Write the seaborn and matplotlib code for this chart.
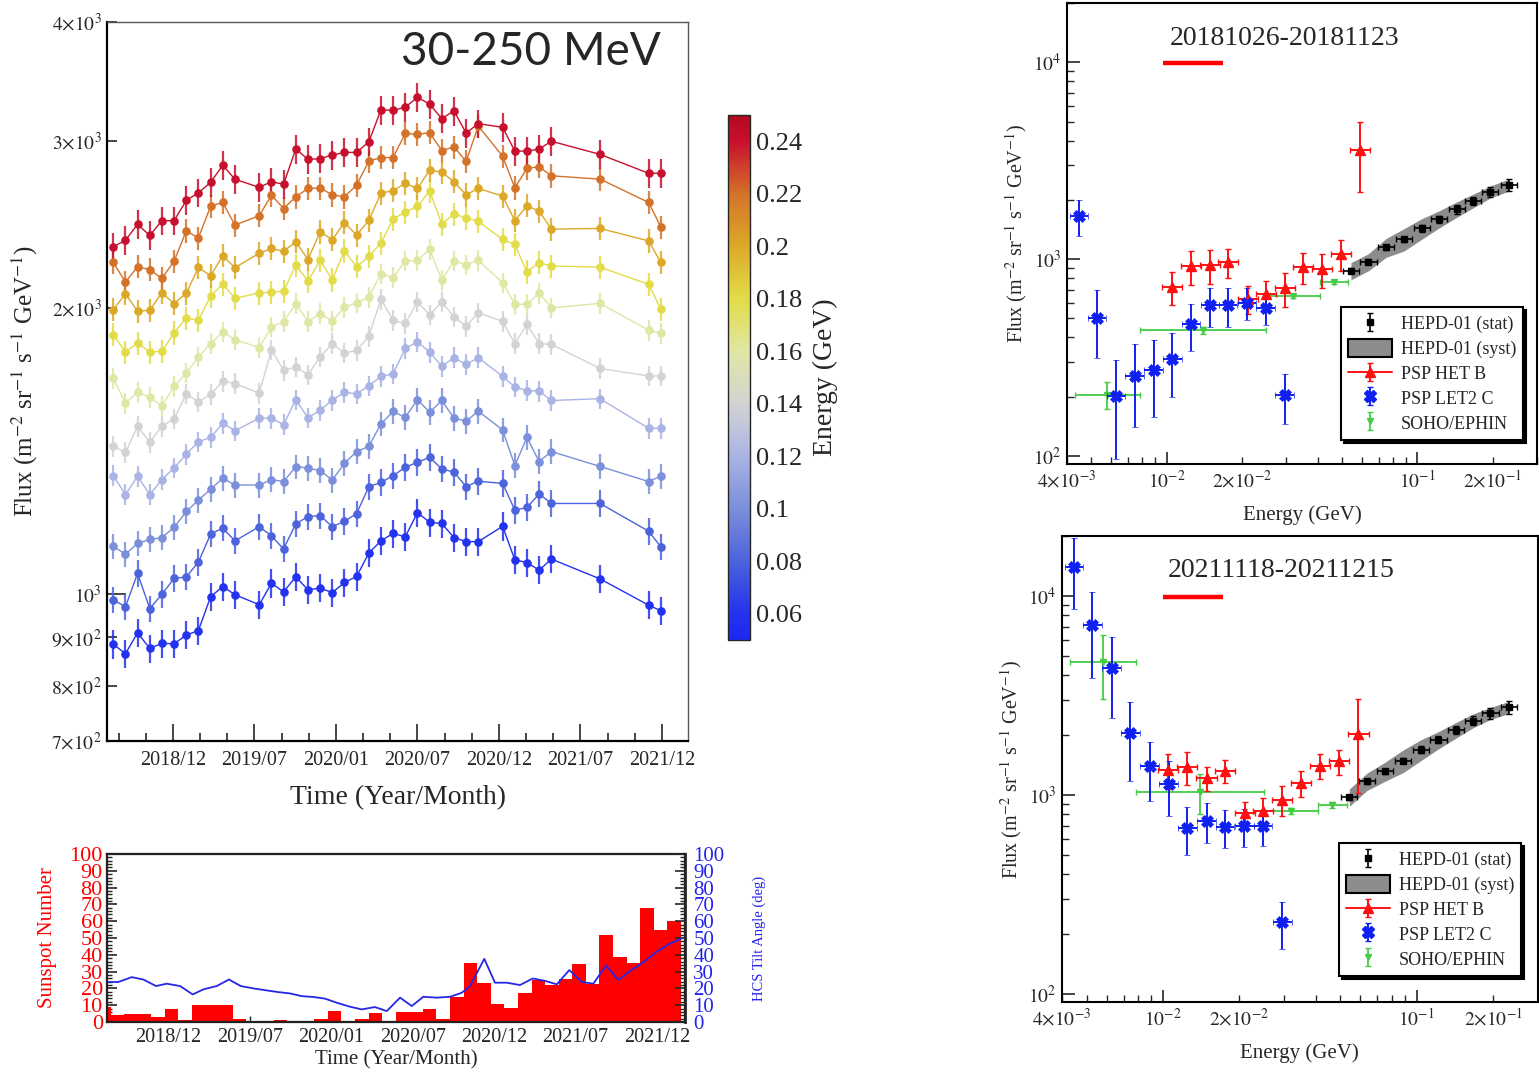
import numpy as np
import pandas as pd
import matplotlib
matplotlib.use("Agg")
import matplotlib.pyplot as plt
import seaborn as sns
from matplotlib.colors import LinearSegmentedColormap, Normalize
from matplotlib.ticker import FixedLocator, FuncFormatter, NullFormatter
from matplotlib.patches import Patch

# ------------------------------------------------------------------ data
# time axis: months (arbitrary origin), one point per 27-day rotation
time_months = [7.60, 8.50, 9.39, 10.29, 11.18, 12.08, 12.98, 13.87, 14.77, 15.66, 16.56,
               18.35, 19.25, 20.14, 21.04, 21.94, 22.83, 23.73, 24.62, 25.52, 26.42,
               27.31, 28.21, 29.10, 30.00, 30.90, 31.79, 32.69, 33.58, 34.48,
               36.27, 37.17, 38.06, 38.96, 39.86,
               43.44, 47.02, 47.92]
time_tick_pos = [12, 18, 24, 30, 36, 42, 48]
time_tick_pos_lower = [11.65, 17.65, 23.65, 29.65, 35.65, 41.65, 47.65]
time_tick_labels = ["2018/12", "2019/07", "2020/01", "2020/07", "2020/12", "2021/07", "2021/12"]

energies = [0.06, 0.08, 0.10, 0.12, 0.14, 0.16, 0.18, 0.20, 0.22, 0.24]
flux_006 = [885, 865, 910, 876, 887, 886, 905, 915, 993, 1018, 998, 974, 1026, 1005, 1042, 1010, 1014, 1003, 1028, 1043, 1104, 1137, 1158, 1148, 1218, 1189, 1186, 1146, 1135, 1135, 1178, 1086, 1079, 1059, 1088, 1037, 973, 960]
flux_008 = [986, 969, 1051, 965, 999, 1038, 1042, 1080, 1156, 1173, 1137, 1177, 1151, 1115, 1185, 1206, 1209, 1177, 1192, 1215, 1297, 1310, 1332, 1359, 1376, 1392, 1354, 1343, 1297, 1314, 1307, 1225, 1233, 1274, 1245, 1245, 1164, 1121]
flux_010 = [1122, 1101, 1130, 1141, 1146, 1175, 1221, 1255, 1289, 1323, 1302, 1302, 1319, 1313, 1361, 1357, 1348, 1318, 1372, 1412, 1430, 1510, 1556, 1534, 1601, 1553, 1598, 1531, 1520, 1557, 1488, 1365, 1461, 1378, 1412, 1362, 1313, 1330]
flux_012 = [1332, 1272, 1330, 1272, 1319, 1357, 1403, 1446, 1461, 1512, 1485, 1531, 1531, 1507, 1601, 1532, 1561, 1599, 1630, 1624, 1656, 1694, 1705, 1813, 1842, 1797, 1736, 1773, 1744, 1773, 1694, 1651, 1637, 1635, 1598, 1605, 1494, 1494]
flux_014 = [1430, 1409, 1501, 1444, 1502, 1528, 1624, 1592, 1622, 1675, 1665, 1627, 1807, 1719, 1733, 1701, 1776, 1834, 1793, 1804, 1868, 2043, 1941, 1926, 2029, 1967, 2029, 1958, 1913, 1977, 1936, 1834, 1922, 1834, 1831, 1727, 1696, 1696]
flux_016 = [1687, 1588, 1630, 1611, 1577, 1654, 1708, 1776, 1834, 1887, 1852, 1817, 1910, 1935, 2021, 1935, 1973, 1937, 2004, 2025, 2052, 2173, 2153, 2241, 2244, 2306, 2139, 2242, 2221, 2245, 2126, 2018, 2018, 2073, 2001, 2022, 1895, 1880]
flux_018 = [1875, 1797, 1837, 1797, 1800, 1883, 1952, 1941, 2058, 2120, 2047, 2074, 2078, 2082, 2218, 2135, 2245, 2141, 2297, 2210, 2267, 2340, 2481, 2524, 2558, 2656, 2451, 2512, 2487, 2468, 2361, 2333, 2183, 2232, 2214, 2208, 2118, 1994]
flux_020 = [1992, 2070, 1984, 1989, 2075, 2021, 2073, 2206, 2162, 2270, 2205, 2284, 2310, 2294, 2348, 2249, 2405, 2360, 2460, 2386, 2473, 2642, 2658, 2705, 2672, 2794, 2779, 2716, 2631, 2672, 2623, 2471, 2562, 2529, 2421, 2425, 2353, 2233]
flux_022 = [2234, 2129, 2210, 2195, 2148, 2240, 2411, 2370, 2559, 2583, 2445, 2501, 2629, 2545, 2618, 2672, 2674, 2631, 2618, 2694, 2855, 2879, 2880, 3053, 3047, 3058, 2929, 2955, 2853, 3108, 2889, 2676, 2805, 2816, 2755, 2733, 2583, 2434]
flux_024 = [2319, 2357, 2449, 2384, 2471, 2471, 2596, 2644, 2712, 2826, 2732, 2679, 2716, 2699, 2940, 2867, 2872, 2897, 2916, 2916, 2992, 3233, 3229, 3253, 3333, 3277, 3165, 3225, 3056, 3126, 3099, 2925, 2925, 2940, 2996, 2902, 2772, 2772]
flux_series = [flux_006, flux_008, flux_010, flux_012, flux_014,
               flux_016, flux_018, flux_020, flux_022, flux_024]
flux_rel_err = [0.034, 0.032, 0.030, 0.025, 0.025, 0.025, 0.028, 0.028, 0.028, 0.035]

cbar_ticks = [0.06, 0.08, 0.10, 0.12, 0.14, 0.16, 0.18, 0.20, 0.22, 0.24]
cbar_ticklabels = ["0.06", "0.08", "0.1", "0.12", "0.14", "0.16", "0.18", "0.2", "0.22", "0.24"]

# sunspot number, monthly, Aug 2018 .. Feb 2022
ssn_first_edge = 6.40
ssn_values = [9.0, 4.0, 5.0, 5.0, 3.2, 7.9, 1.0, 10.1, 10.0, 10.3, 1.5, 0.8, 0.5, 1.2,
              0.4, 0.5, 1.6, 6.5, 0.4, 1.6, 5.5, 0.4, 6.1, 6.1, 7.9, 1.6, 15.0, 34.9,
              23.4, 10.7, 8.5, 17.4, 24.8, 22.0, 25.3, 34.7, 22.4, 51.5, 38.6, 35.2,
              67.9, 54.7, 60.4]
hcs_time = [7.16, 7.97, 8.96, 9.81, 10.75, 11.54, 12.52, 13.45, 14.23, 15.22,
            16.12, 16.99, 17.91, 18.90, 19.75, 20.62, 21.48, 22.33, 23.19, 24.05,
            25.03, 25.90, 26.87, 27.74, 28.72, 29.58, 30.43, 31.42, 32.40, 33.26,
            33.87, 34.92, 35.71, 36.57, 37.55, 38.49, 39.44, 40.26, 41.18, 42.10,
            42.95, 43.89, 44.79, 45.65, 46.63, 47.62, 48.55, 49.46]
hcs_tilt = [23.8, 23.8, 26.7, 25.3, 21.4, 22.8, 21.4, 16.4, 19.4, 21.4,
            25.3, 21.4, 20.0, 18.8, 17.8, 17.0, 15.4, 14.9, 13.9, 11.5,
            9.1, 7.5, 8.9, 6.5, 14.5, 9.5, 15.0, 14.5, 15.0, 17.4,
            21.4, 37.6, 23.4, 23.4, 22.0, 25.9, 24.4, 22.4, 30.9, 23.8,
            22.8, 33.7, 25.0, 30.3, 35.6, 41.8, 46.5, 49.7]

# spectra (GeV, m^-2 sr^-1 s^-1 GeV^-1)
hepd_E = [0.0543, 0.0638, 0.0750, 0.0885, 0.1040, 0.1219, 0.1433, 0.1669, 0.1955, 0.231]
hepd_stat = [0.03, 0.03, 0.03, 0.03, 0.04, 0.04, 0.05, 0.05, 0.06, 0.07]
hepd_syst = [0.10, 0.10, 0.11, 0.13, 0.12, 0.10, 0.09, 0.08, 0.07, 0.07]
hepd_dex = 0.032
het_E = [0.01047, 0.01245, 0.01486, 0.01758, 0.02113, 0.02483, 0.02953, 0.03511, 0.04169, 0.04955, 0.05897]
het_dex = 0.040
let_E = [0.004457, 0.005272, 0.006270, 0.007447, 0.008855, 0.01053, 0.01249, 0.01486, 0.01758, 0.02092, 0.02480, 0.02951]
let_dex = 0.037
ephin_lo = [0.0043, 0.0078, 0.025, 0.0409]
ephin_hi = [0.0078, 0.025, 0.0409, 0.053]
ephin_E = [0.00579, 0.01396, 0.03198, 0.04656]

hepd_flux_2018 = [872, 969, 1147, 1264, 1432, 1597, 1789, 1979, 2199, 2377]
het_flux_2018 = [723, 921, 929, 962, 626, 661, 710, 914, 886, 1060, 3582]
het_err_2018 = [140, 180, 180, 165, 100, 115, 140, 165, 170, 190, 1400]
let_flux_2018 = [1654, 503, 201, 255, 273, 310, 466, 584, 584, 599, 565, 203]
let_err_2018 = [350, 190, 105, 115, 115, 110, 125, 130, 130, 110, 105, 57]
ephin_flux_2018 = [205, 436, 648, 761]
ephin_err_2018 = [32, 18, 15, 15]

hepd_flux_2021 = [973, 1170, 1314, 1487, 1689, 1890, 2122, 2362, 2571, 2755]
het_flux_2021 = [1335, 1376, 1217, 1325, 808, 827, 942, 1149, 1404, 1475, 2025]
het_err_2021 = [270, 260, 170, 180, 115, 135, 160, 170, 200, 210, 1000]
let_flux_2021 = [14040, 7151, 4328, 2049, 1392, 1136, 683, 743, 688, 699, 696, 229]
let_err_2021 = [5400, 3300, 1900, 880, 460, 350, 185, 170, 150, 150, 145, 60]
ephin_flux_2021 = [4676, 1039, 834, 894]
ephin_err_2021 = [1650, 240, 30, 30]

# ------------------------------------------------------------------ style
sns.set_theme(style="ticks")
plt.rcParams["font.family"] = ["Liberation Serif", "DejaVu Serif"]
plt.rcParams["mathtext.fontset"] = "stix"
plt.rcParams["axes.linewidth"] = 1.3

W, H = 1539, 1076
fig = plt.figure(figsize=(W / 100, H / 100), dpi=100)


def box(x0, y0, x1, y1):
    return [x0 / W, 1 - y1 / H, (x1 - x0) / W, (y1 - y0) / H]


cmap = LinearSegmentedColormap.from_list("energy", [
    (0.00, "#1c28f2"), (0.05, "#2333ee"), (0.15, "#4d63dc"), (0.25, "#7b8fda"),
    (0.35, "#aab4e4"), (0.45, "#d3d3d3"), (0.55, "#e0e6a4"), (0.65, "#e2dc48"),
    (0.75, "#dcaa28"), (0.85, "#d4732a"), (0.95, "#c8102e"), (1.00, "#b50a1e")])
norm = Normalize(0.05, 0.25)
palette = {e: cmap(norm(e)) for e in energies}

# ------------------------------------------------------------------ main panel
ax = fig.add_axes(box(107, 22, 688, 741))
rows = []
for e, fl in zip(energies, flux_series):
    for t, f in zip(time_months, fl):
        rows.append((t, f, e))
df = pd.DataFrame(rows, columns=["time", "flux", "energy"])

for e, fl, rel in zip(energies, flux_series, flux_rel_err):
    fl = np.asarray(fl, float)
    ax.errorbar(time_months, fl, yerr=fl * rel, fmt="none", ecolor=palette[e],
                elinewidth=1.6, alpha=0.85, zorder=1)
sns.lineplot(data=df, x="time", y="flux", hue="energy", palette=palette,
             marker="o", markersize=6.2, markeredgewidth=0, linewidth=1.0,
             legend=False, ax=ax, estimator=None, sort=False, zorder=2)

ax.set_yscale("log")
ax.set_ylim(700, 4000)
ax.set_xlim(7.14, 49.92)
ylab = {700: r"$7{\times}10^{2}$", 800: r"$8{\times}10^{2}$", 900: r"$9{\times}10^{2}$",
        1000: r"$10^{3}$", 2000: r"$2{\times}10^{3}$", 3000: r"$3{\times}10^{3}$",
        4000: r"$4{\times}10^{3}$"}
fmt = FuncFormatter(lambda v, p: ylab.get(int(round(v)), ""))
ax.yaxis.set_major_locator(FixedLocator([1000]))
ax.yaxis.set_minor_locator(FixedLocator([700, 800, 900, 2000, 3000, 4000]))
ax.yaxis.set_major_formatter(fmt)
ax.yaxis.set_minor_formatter(fmt)
ax.xaxis.set_major_locator(FixedLocator(time_tick_pos))
ax.xaxis.set_minor_locator(FixedLocator([8, 10, 14, 16, 20, 22, 26, 28, 32, 34, 38, 40, 44, 46]))
ax.set_xticklabels(time_tick_labels)
ax.tick_params(axis="y", which="major", direction="in", length=14, width=1.2, labelsize=14, pad=4)
ax.tick_params(axis="y", which="minor", direction="in", length=7, width=1.2, labelsize=14, pad=4)
ax.tick_params(axis="x", which="major", direction="in", length=12, width=1.2, labelsize=14.5, pad=7)
ax.tick_params(axis="x", which="minor", direction="in", length=6, width=1.2)
for s in ["left", "bottom"]:
    ax.spines[s].set_linewidth(1.6)
    ax.spines[s].set_color("black")
for s in ["top", "right"]:
    ax.spines[s].set_linewidth(1.0)
    ax.spines[s].set_color("#555555")
ax.set_xlabel("Time (Year/Month)", fontsize=20, labelpad=11)
ax.set_ylabel(r"Flux (m$^{-2}$ sr$^{-1}$ s$^{-1}$ GeV$^{-1}$)", fontsize=18, labelpad=8)
ax.text(0.7298, 0.958, "30-250 MeV", transform=ax.transAxes, ha="center", va="center",
        fontsize=33, family=["Lato", "DejaVu Sans"])

# colorbar
cax = fig.add_axes(box(728, 115, 750, 640))
sm = matplotlib.cm.ScalarMappable(norm=norm, cmap=cmap)
cb = fig.colorbar(sm, cax=cax, ticks=cbar_ticks)
cb.ax.set_yticklabels(cbar_ticklabels)
cax.tick_params(direction="in", length=5, width=1, labelsize=19, pad=4)
cb.set_label("Energy (GeV)", fontsize=20, labelpad=8)
cb.outline.set_linewidth(1.0)

# ------------------------------------------------------------------ sunspot / HCS panel
axb = fig.add_axes(box(107, 854, 685, 1022))
ssn_edges = ssn_first_edge + np.arange(len(ssn_values) + 1)
ssn_df = pd.DataFrame({"month": ssn_edges[:-1] + 0.5, "ssn": ssn_values})
sns.histplot(data=ssn_df, x="month", weights="ssn", bins=list(ssn_edges), element="step",
             fill=True, color="#ff0000", alpha=1.0, linewidth=0, ax=axb)
axb.set_xlim(7.14, 49.70)
axb.set_ylim(0, 100)
axb.yaxis.set_major_locator(FixedLocator(list(range(0, 101, 10))))
axb.yaxis.set_minor_locator(FixedLocator(list(range(0, 101, 2))))
axb.tick_params(axis="y", which="major", direction="in", length=7, width=1.2,
                labelsize=16, labelcolor="#ff0000", pad=3)
axb.tick_params(axis="y", which="minor", direction="in", length=3.5, width=1.0)
axb.xaxis.set_major_locator(FixedLocator(time_tick_pos_lower))
axb.set_xticklabels(time_tick_labels)
axb.tick_params(axis="x", which="major", direction="in", length=4, width=1.0, labelsize=14.5, pad=4)
axb.set_ylabel("Sunspot Number", color="#ff0000", fontsize=15, labelpad=9)
axb.set_xlabel("Time (Year/Month)", fontsize=15, labelpad=3)
for s in axb.spines.values():
    s.set_linewidth(1.6)
    s.set_color("black")

axt = axb.twinx()
sns.lineplot(x=hcs_time, y=hcs_tilt, color="#2626e6", linewidth=1.3, ax=axt)
axt.set_ylim(0, 100)
axt.set_xlim(7.14, 49.70)
axt.yaxis.set_major_locator(FixedLocator(list(range(0, 101, 10))))
axt.yaxis.set_minor_locator(FixedLocator(list(range(0, 101, 2))))
axt.tick_params(axis="y", which="major", direction="in", length=7, width=1.2,
                labelsize=15, labelcolor="#2222ee", pad=6)
axt.tick_params(axis="y", which="minor", direction="in", length=3.5, width=1.0)
axt.set_ylabel("HCS Tilt Angle (deg)", color="#2222ee", fontsize=10.5, labelpad=20)
axt.spines["right"].set_linewidth(2.0)


# ------------------------------------------------------------------ spectra panels
def spectrum(axs, title, tx, ty, bar_x, bar_y, hepd_f, het_f, het_e, let_f, let_e,
             eph_f, eph_e, leg_anchor):
    hepd_f = np.asarray(hepd_f, float)
    E = np.asarray(hepd_E)
    axs.fill_between(E, hepd_f * (1 - np.asarray(hepd_syst)), hepd_f * (1 + np.asarray(hepd_syst)),
                     color="#8c8c8c", linewidth=0, zorder=1)
    axs.errorbar(E, hepd_f, xerr=[E * (1 - 10 ** -hepd_dex), E * (10 ** hepd_dex - 1)],
                 yerr=hepd_f * np.asarray(hepd_stat), fmt="s", color="black", ms=5,
                 elinewidth=1.2, capsize=2, zorder=5)
    Eh = np.asarray(het_E)
    axs.errorbar(Eh, het_f, xerr=[Eh * (1 - 10 ** -het_dex), Eh * (10 ** het_dex - 1)],
                 yerr=het_e, fmt="^", color="#ff1010", ms=7, elinewidth=1.4, capsize=2.5, zorder=4)
    El = np.asarray(let_E)
    axs.errorbar(El, let_f, xerr=[El * (1 - 10 ** -let_dex), El * (10 ** let_dex - 1)],
                 yerr=let_e, fmt="X", color="#1020f0", ms=8.5, mew=0.5, elinewidth=1.4,
                 capsize=2.5, zorder=4)
    Ee = np.asarray(ephin_E)
    axs.errorbar(Ee, eph_f, xerr=[Ee - np.asarray(ephin_lo), np.asarray(ephin_hi) - Ee],
                 yerr=eph_e, fmt="v", color="#44cc44", ms=4.5, elinewidth=1.3, capsize=2, zorder=3)

    axs.set_xscale("log")
    axs.set_yscale("log")
    axs.set_xlim(4e-3, 0.3)
    axs.set_ylim(91, 2.0e4)
    xl = {0.004: r"$4{\times}10^{-3}$", 0.02: r"$2{\times}10^{-2}$", 0.2: r"$2{\times}10^{-1}$",
          0.01: r"$10^{-2}$", 0.1: r"$10^{-1}$"}
    xf = FuncFormatter(lambda v, p: xl.get(round(v, 4), ""))
    axs.xaxis.set_major_locator(FixedLocator([0.01, 0.1]))
    axs.xaxis.set_minor_locator(FixedLocator([0.004, 0.005, 0.006, 0.007, 0.008, 0.009,
                                              0.02, 0.03, 0.04, 0.05, 0.06, 0.07, 0.08, 0.09,
                                              0.2, 0.3]))
    axs.xaxis.set_major_formatter(xf)
    axs.xaxis.set_minor_formatter(xf)
    yl = {100: r"$10^{2}$", 1000: r"$10^{3}$", 10000: r"$10^{4}$"}
    axs.yaxis.set_major_locator(FixedLocator([100, 1000, 10000]))
    axs.yaxis.set_minor_locator(FixedLocator([m * 10 ** k for k in (2, 3, 4) for m in range(2, 10)
                                              if m * 10 ** k <= 2e4]))
    axs.yaxis.set_major_formatter(FuncFormatter(lambda v, p: yl.get(int(round(v)), "")))
    axs.yaxis.set_minor_formatter(NullFormatter())
    axs.tick_params(which="major", direction="in", length=9, width=1.2, labelsize=14, pad=4)
    axs.tick_params(which="minor", direction="in", length=5, width=1.0, labelsize=14, pad=4)
    for s in axs.spines.values():
        s.set_linewidth(1.5)
        s.set_color("black")
    axs.set_xlabel("Energy (GeV)", fontsize=15, labelpad=10)
    axs.set_ylabel(r"Flux (m$^{-2}$ sr$^{-1}$ s$^{-1}$ GeV$^{-1}$)", fontsize=14.5, labelpad=3)
    axs.text(tx, ty, title, transform=axs.transAxes, fontsize=20, ha="left", va="center")
    axs.plot(bar_x, [bar_y, bar_y], transform=axs.transAxes, color="#ff0000", lw=3.2,
             solid_capstyle="butt")

    # legend proxies
    h1 = axs.errorbar([np.nan], [np.nan], yerr=[1], fmt="s", color="black", ms=5, capsize=2,
                      elinewidth=1.2)
    h2 = Patch(facecolor="#8c8c8c", edgecolor="black", linewidth=1.5)
    h3 = axs.errorbar([np.nan], [np.nan], yerr=[1], fmt="^-", color="#ff1010", ms=7,
                      capsize=2, elinewidth=1.4, lw=1.4)
    h4 = axs.errorbar([np.nan], [np.nan], yerr=[1], fmt="X", color="#1020f0", ms=8.5,
                      capsize=2, elinewidth=1.4)
    h5 = axs.errorbar([np.nan], [np.nan], yerr=[1], fmt="v", color="#44cc44", ms=4.5,
                      capsize=2, elinewidth=1.3)
    leg = axs.legend([h1, h2, h3, h4, h5],
                     ["HEPD-01 (stat)", "HEPD-01 (syst)", "PSP HET B", "PSP LET2 C", "SOHO/EPHIN"],
                     loc="upper left", bbox_to_anchor=leg_anchor, fontsize=13, frameon=True,
                     fancybox=False, edgecolor="black", framealpha=1,
                     shadow={"color": "black", "alpha": 1.0}, borderpad=0.4,
                     labelspacing=0.32, handlelength=2.4, handleheight=1.15,
                     handletextpad=0.5, borderaxespad=0)
    leg.get_frame().set_linewidth(1.5)


ax_r1 = fig.add_axes(box(1067, 3, 1537, 464))
spectrum(ax_r1, "20181026-20181123", 0.219, 0.924, [0.204, 0.332], 0.870,
         hepd_flux_2018, het_flux_2018, het_err_2018, let_flux_2018, let_err_2018,
         ephin_flux_2018, ephin_err_2018, (0.583, 0.3406))

ax_r2 = fig.add_axes(box(1062, 536, 1537.6, 1002))
spectrum(ax_r2, "20211118-20211215", 0.223, 0.925, [0.2124, 0.3385], 0.869,
         hepd_flux_2021, het_flux_2021, het_err_2021, let_flux_2021, let_err_2021,
         ephin_flux_2021, ephin_err_2021, (0.5824, 0.3412))

fig.savefig("out.png", dpi=100)
